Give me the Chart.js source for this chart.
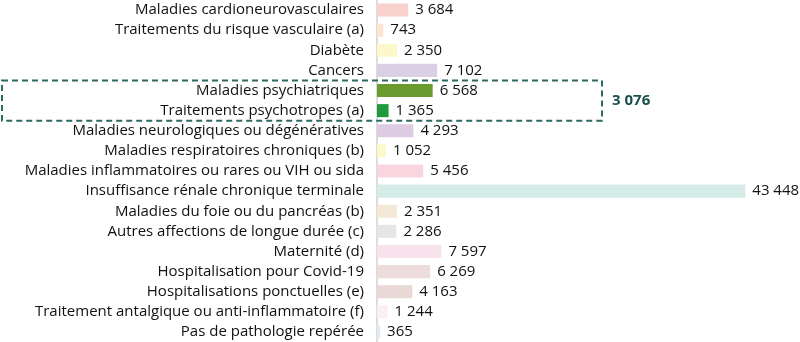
<!DOCTYPE html>
<html lang="fr">
<head>
<meta charset="utf-8">
<script src="https://cdn.jsdelivr.net/npm/chart.js@4/dist/chart.umd.min.js"></script>
<style>
  html, body { margin: 0; padding: 0; background: #ffffff; }
  #wrap { position: relative; width: 800px; height: 342px; }
</style>
</head>
<body>
<div id="wrap"><canvas id="chart" width="800" height="342"></canvas></div>
<script>
// Catégories de pathologies / traitements
const categories = [
  "Maladies cardioneurovasculaires",
  "Traitements du risque vasculaire (a)",
  "Diabète",
  "Cancers",
  "Maladies psychiatriques",
  "Traitements psychotropes (a)",
  "Maladies neurologiques ou dégénératives",
  "Maladies respiratoires chroniques (b)",
  "Maladies inflammatoires ou rares ou VIH ou sida",
  "Insuffisance rénale chronique terminale",
  "Maladies du foie ou du pancréas (b)",
  "Autres affections de longue durée (c)",
  "Maternité (d)",
  "Hospitalisation pour Covid-19",
  "Hospitalisations ponctuelles (e)",
  "Traitement antalgique ou anti-inflammatoire (f)",
  "Pas de pathologie repérée"
];

// Valeurs par catégorie
const values = [3684, 743, 2350, 7102, 6568, 1365, 4293, 1052, 5456, 43448, 2351, 2286, 7597, 6269, 4163, 1244, 365];

// Total du groupe santé mentale (encadré)
const mentalHealthTotal = 3076;
const mentalHealthRows = [4, 5];

// Couleurs des barres
const barColors = [
  "#f9d1cc", "#fce6cf", "#fdf8cc", "#d9d0e6", "#6b9a2e", "#1f9a3c",
  "#dccbe3", "#fdf7cc", "#f9d5df", "#d5ebe8", "#f4e8d6", "#e6e6e6",
  "#f8e3ec", "#ecdcdc", "#e8d9d6", "#fdeef2", "#e2e9f6"
];

const FONT = "'Open Sans', Lato, sans-serif";

function fmt(n) {
  return String(n).replace(/\B(?=(\d{3})+(?!\d))/g, " ");
}

// Étiquettes de valeurs au bout des barres
const valueLabels = {
  id: "valueLabels",
  afterDatasetsDraw(chart) {
    const ctx = chart.ctx;
    const meta = chart.getDatasetMeta(0);
    ctx.save();
    ctx.font = "15px " + FONT;
    ctx.fillStyle = "#111111";
    ctx.textAlign = "left";
    ctx.textBaseline = "middle";
    meta.data.forEach((bar, i) => {
      ctx.fillText(fmt(values[i]), bar.x + 7, bar.y);
    });
    ctx.restore();
  }
};

// Encadré pointillé autour des lignes santé mentale + total
const groupBox = {
  id: "groupBox",
  afterDraw(chart) {
    const ctx = chart.ctx;
    const y = chart.scales.y;
    const half = (y.getPixelForValue(1) - y.getPixelForValue(0)) / 2;
    const top = y.getPixelForValue(mentalHealthRows[0]) - half;
    const bottom = y.getPixelForValue(mentalHealthRows[1]) + half;
    const left = 2, right = 602;
    ctx.save();
    ctx.strokeStyle = "#2d6a61";
    ctx.lineWidth = 2;
    ctx.setLineDash([6, 4]);
    ctx.strokeRect(left, top, right - left, bottom - top);
    ctx.setLineDash([]);
    ctx.font = "bold 15px " + FONT;
    ctx.fillStyle = "#1b4f49";
    ctx.textAlign = "left";
    ctx.textBaseline = "middle";
    ctx.fillText(fmt(mentalHealthTotal), right + 10, (top + bottom) / 2);
    ctx.restore();
  }
};

new Chart(document.getElementById("chart"), {
  type: "bar",
  data: {
    labels: categories,
    datasets: [{
      data: values,
      backgroundColor: barColors,
      borderWidth: 0,
      barPercentage: 0.65,
      categoryPercentage: 1.0
    }]
  },
  options: {
    indexAxis: "y",
    responsive: false,
    animation: false,
    maintainAspectRatio: false,
    layout: { padding: { top: 0, bottom: 0, left: 0, right: 0 } },
    plugins: {
      legend: { display: false },
      tooltip: { enabled: false }
    },
    scales: {
      x: {
        display: false,
        min: 0,
        max: 49900
      },
      y: {
        afterFit(scale) {
          scale.width = 377;
          scale.paddingTop = 0;
          scale.paddingBottom = 0;
        },
        grid: { display: false, drawTicks: false },
        border: { display: true, color: "#dcdcdc", width: 2 },
        ticks: {
          font: { family: FONT, size: 15 },
          color: "#111111",
          padding: 13,
          autoSkip: false
        }
      }
    }
  },
  plugins: [valueLabels, groupBox]
});
</script>
</body>
</html>
